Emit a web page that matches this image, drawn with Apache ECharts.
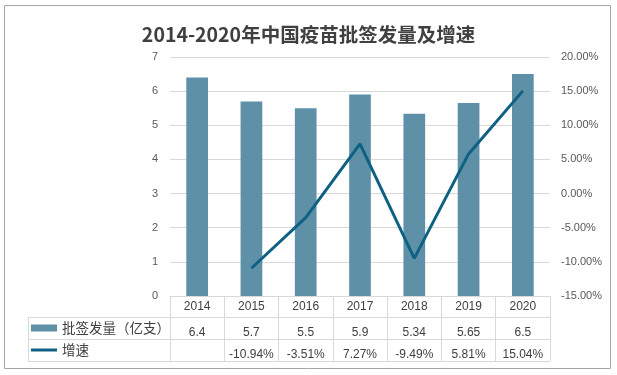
<!DOCTYPE html>
<html>
<head>
<meta charset="utf-8">
<script src="https://cdn.jsdelivr.net/npm/echarts@6/dist/echarts.min.js"></script>
<style>html,body{margin:0;padding:0;background:#fff}#c{width:617px;height:375px}</style>
</head>
<body>
<div id="c"></div>
<script>
const categories = ['2014', '2015', '2016', '2017', '2018', '2019', '2020'];
const volume = [6.4, 5.7, 5.5, 5.9, 5.34, 5.65, 6.5];
const growth = [null, -10.94, -3.51, 7.27, -9.49, 5.81, 15.04];
const seriesNames = ['批签发量（亿支）', '增速'];
const titleText = '2014-2020年中国疫苗批签发量及增速';

const GL = 170, GR = 550, GT = 57, GB = 296;
const rowLines = [317, 339, 361];
const TL = 28;
const barColor = '#5E91A8';
const lineColor = '#0E6183';
const gridLineColor = '#D9D9D9';
const textColor = '#404040';
const axisColor = '#595959';
const numFont = 'Liberation Sans';

const chart = echarts.init(document.getElementById('c'), null, {renderer: 'canvas'});

const labelBase = {interval: 0, margin: 4, fontSize: 12, lineHeight: 14, color: textColor, fontFamily: numFont};
const legendText = {fontSize: 13.5, lineHeight: 14, color: textColor, fontFamily: 'Noto Sans CJK SC'};

const graphics = [
  {type: 'rect', shape: {x: 4.5, y: 5.5, width: 606, height: 363}, style: {fill: null, stroke: '#A6A6A6', lineWidth: 1}, silent: true, z: -1}
];
rowLines.forEach(y => graphics.push({type: 'line', shape: {x1: TL, y1: y + 0.5, x2: GR, y2: y + 0.5}, style: {stroke: gridLineColor, lineWidth: 1}, silent: true}));
graphics.push({type: 'line', shape: {x1: TL + 0.5, y1: rowLines[0], x2: TL + 0.5, y2: rowLines[2]}, style: {stroke: gridLineColor, lineWidth: 1}, silent: true});

chart.setOption({
  animation: false,
  title: {
    text: titleText, left: 'center', top: 24, padding: 0,
    textStyle: {fontSize: 19.5, fontWeight: 'bold', color: textColor, fontFamily: 'Noto Sans CJK SC', lineHeight: 21}
  },
  legend: [
    {
      data: [seriesNames[0]], left: 31, top: 321, padding: 0,
      itemWidth: 26, itemHeight: 7, selectedMode: false, icon: 'rect',
      textStyle: legendText
    },
    {
      data: [seriesNames[1]], left: 31, top: 343, padding: 0,
      itemWidth: 26, itemHeight: 3, selectedMode: false, icon: 'rect',
      textStyle: legendText
    }
  ],
  grid: {left: GL, right: 617 - GR, top: GT, bottom: 375 - GB, containLabel: false},
  xAxis: [
    {
      type: 'category', data: categories, position: 'bottom',
      axisLine: {show: true, lineStyle: {color: gridLineColor, width: 1}},
      axisTick: {show: true, interval: 0, length: rowLines[2] - GB, lineStyle: {color: gridLineColor}},
      axisLabel: labelBase
    },
    {
      type: 'category', data: volume.map(v => String(v)), position: 'bottom', offset: rowLines[0] - GB + 5,
      axisLine: {show: false}, axisTick: {show: false}, axisLabel: labelBase
    },
    {
      type: 'category', data: growth.map(v => v == null ? '' : v.toFixed(2) + '%'), position: 'bottom', offset: rowLines[1] - GB + 5,
      axisLine: {show: false}, axisTick: {show: false}, axisLabel: labelBase
    }
  ],
  yAxis: [
    {
      type: 'value', min: 0, max: 7, interval: 1, position: 'left',
      axisLine: {show: false}, axisTick: {show: false},
      axisLabel: {margin: 12, fontSize: 11, color: axisColor, fontFamily: numFont},
      splitLine: {lineStyle: {color: gridLineColor, width: 1}}
    },
    {
      type: 'value', min: -15, max: 20, interval: 5, position: 'right',
      axisLine: {show: false}, axisTick: {show: false},
      axisLabel: {margin: 11, fontSize: 11, color: axisColor, fontFamily: numFont, formatter: v => v.toFixed(2) + '%'},
      splitLine: {show: false}
    }
  ],
  series: [
    {
      name: seriesNames[0], type: 'bar', data: volume, barWidth: '40%',
      itemStyle: {color: barColor}, xAxisIndex: 0, yAxisIndex: 0
    },
    {
      name: seriesNames[1], type: 'line', data: growth.map(v => v == null ? '-' : v),
      symbol: 'none', lineStyle: {color: lineColor, width: 3}, itemStyle: {color: lineColor},
      xAxisIndex: 0, yAxisIndex: 1, z: 3
    }
  ],
  graphic: graphics
});
</script>
</body>
</html>
